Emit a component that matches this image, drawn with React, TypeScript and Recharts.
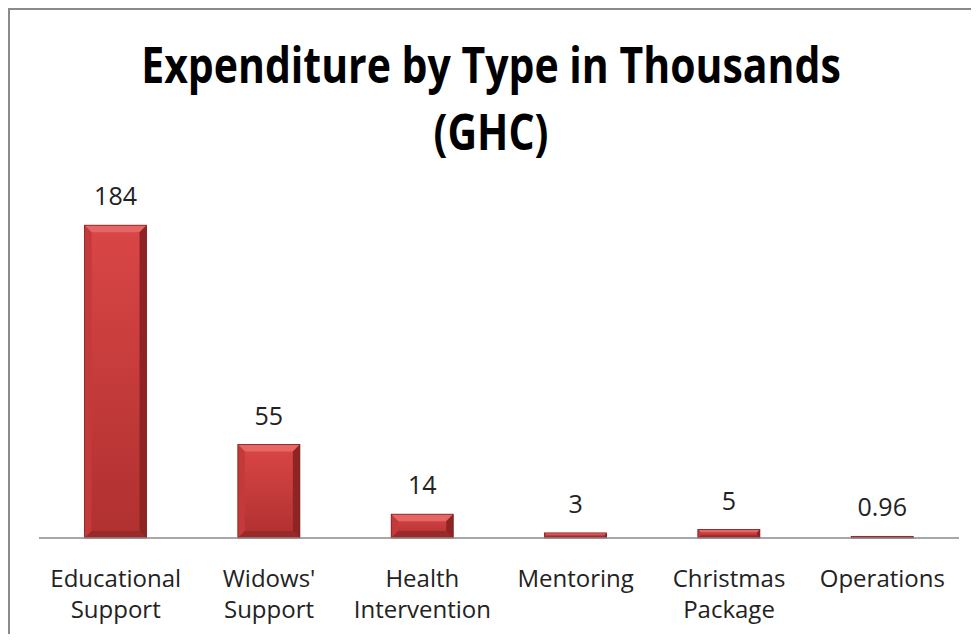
import { BarChart, Bar, XAxis, YAxis, LabelList } from "recharts";

const categories = [
  "Educational Support",
  "Widows' Support",
  "Health Intervention",
  "Mentoring",
  "Christmas Package",
  "Operations",
];
const amounts = [184, 55, 14, 3, 5, 0.96];
const labels = ["184", "55", "14", "3", "5", "0.96"];
const titleLines = ["Expenditure by Type in Thousands", "(GHC)"];

const data = categories.map((name, i) => ({ name, value: amounts[i], label: labels[i] }));

const font = "'Open Sans', 'Noto Sans', sans-serif";

// bevelled bar like the office chart style
const BevelBar = (props: any) => {
  const { x, y, width, height } = props;
  if (!height || height <= 0) return null;
  const b = Math.min(7, height / 3, width / 4);
  return (
    <g>
      <rect x={x} y={y} width={width} height={height} fill="url(#barFill)" />
      <polygon
        points={`${x},${y} ${x + width},${y} ${x + width - b},${y + b} ${x + b},${y + b}`}
        fill="#e66666"
      />
      <polygon
        points={`${x},${y} ${x + b},${y + b} ${x + b},${y + height - b} ${x},${y + height}`}
        fill="#c43a3a"
      />
      <polygon
        points={`${x + width},${y} ${x + width},${y + height} ${x + width - b},${y + height - b} ${x + width - b},${y + b}`}
        fill="#8e2424"
      />
      <polygon
        points={`${x},${y + height} ${x + b},${y + height - b} ${x + width - b},${y + height - b} ${x + width},${y + height}`}
        fill="#9a2a2a"
      />
      <rect x={x} y={y} width={width} height={height} fill="none" stroke="#7a1e1e" strokeWidth={0.8} />
    </g>
  );
};

const CategoryTick = (props: any) => {
  const { x, y, payload } = props;
  const words = String(payload.value).split(" ");
  return (
    <g transform={`translate(${x},${y})`}>
      {words.map((w: string, i: number) => (
        <text
          key={i}
          x={0}
          y={i * 31}
          dy={41}
          textAnchor="middle"
          fill="#222"
          fontSize={24}
          fontFamily={font}
        >
          {w}
        </text>
      ))}
    </g>
  );
};

export default function App() {
  return (
    <div
      style={{
        position: "relative",
        width: 961,
        height: 624,
        borderTop: "2px solid #8a8a8a",
        borderLeft: "2px solid #8a8a8a",
        background: "#fff",
      }}
    >
      <style>{`html,body{overflow:hidden}`}</style>
      <svg
        width={961}
        height={180}
        style={{ position: "absolute", left: 0, top: 0 }}
      >
        {titleLines.map((t, i) => (
          <text
            key={i}
            transform={`translate(481,${73 + i * 67}) scale(1,1.24)`}
            textAnchor="middle"
            fontFamily={font}
            fontWeight={700}
            fontSize={41}
            fill="#000"
          >
            {t}
          </text>
        ))}
      </svg>
      <BarChart
        width={961}
        height={624}
        data={data}
        margin={{ top: 188, left: 29, right: 12, bottom: 6 }}
        barCategoryGap="29.7%"
      >
        <defs>
          <linearGradient id="barFill" x1="0" y1="0" x2="0" y2="1">
            <stop offset="0%" stopColor="#da4646" />
            <stop offset="100%" stopColor="#b03030" />
          </linearGradient>
        </defs>
        <XAxis
          dataKey="name"
          interval={0}
          height={90}
          tickLine={false}
          axisLine={{ stroke: "#8a8a8a", strokeWidth: 1.5 }}
          tick={<CategoryTick />}
        />
        <YAxis hide domain={[0, 200]} />
        <Bar dataKey="value" shape={<BevelBar />} isAnimationActive={false}>
          <LabelList
            dataKey="label"
            position="top"
            offset={20}
            fill="#222"
            fontSize={25}
            fontFamily={font}
          />
        </Bar>
      </BarChart>
    </div>
  );
}
